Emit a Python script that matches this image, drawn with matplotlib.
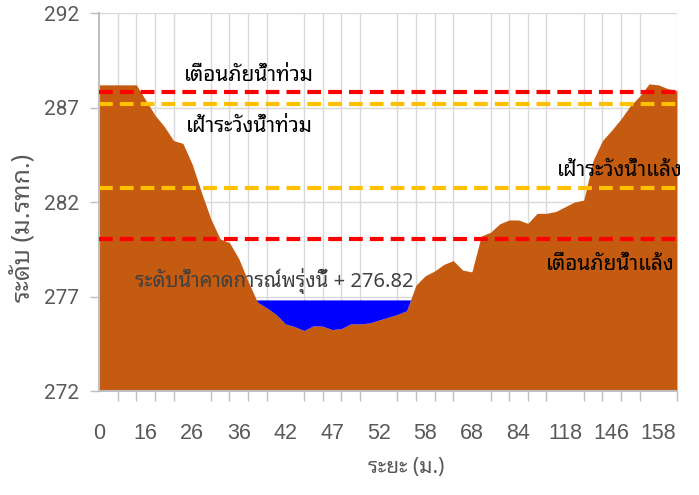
import matplotlib
matplotlib.use("Agg")
import matplotlib.pyplot as plt
import numpy as np

plt.rcParams['font.family'] = ['Noto Sans Thai Looped', 'DejaVu Sans']

# ระดับตลิ่ง/ท้องน้ำ ตามจุดสำรวจ (ม.รทก.)
ground = [288.2, 288.2, 288.2, 288.2, 288.2, 287.4, 286.6, 286.0, 285.25, 285.1,
          284.0, 282.5, 281.1, 280.05, 279.85, 279.0, 277.8, 276.7, 276.4, 276.05,
          275.55, 275.4, 275.2, 275.45, 275.43, 275.25, 275.3, 275.55, 275.55, 275.6,
          275.75, 275.9, 276.05, 276.25, 277.6, 278.1, 278.35, 278.7, 278.9, 278.4,
          278.3, 280.2, 280.4, 280.85, 281.05, 281.05, 280.87, 281.4, 281.4, 281.5,
          281.75, 282.0, 282.1, 284.2, 285.25, 285.8, 286.4, 287.1, 287.6, 288.25,
          288.2, 288.0, 287.9]
dist_labels = ['0', '16', '26', '36', '42', '47', '52', '58', '68', '84', '118', '146', '158']

water_level = 276.82
flood_warn = 287.82
flood_watch = 287.2
drought_watch = 282.76
drought_warn = 280.04

x = np.arange(len(ground))
g = np.array(ground)

fig = plt.figure(figsize=(6.99, 4.95), dpi=100)
ax = fig.add_axes([0.1416, 0.2101, 0.8269, 0.7636])

ax.fill_between(x, 272, g, color='#C55A11', lw=0, zorder=2)
ax.fill_between(x, g, water_level, where=g < water_level, interpolate=True,
                color='#0000FF', lw=0, zorder=2)

for lvl, col in [(flood_warn, '#FF0000'), (flood_watch, '#FFC000'),
                 (drought_watch, '#FFC000'), (drought_warn, '#FF0000')]:
    ax.axhline(lvl, color=col, lw=3, dashes=(3.3, 1.7), zorder=3)

ax.set_xlim(0, len(ground) - 1)
ax.set_ylim(272, 292)
ax.set_yticks([272, 277, 282, 287, 292])
ax.set_xticks(np.arange(0, len(ground), 5))
ax.set_xticklabels(dist_labels)
ax.set_xticks(np.arange(0, len(ground), 2), minor=True)
ax.tick_params(axis='x', which='major', length=0, pad=23, labelsize=15.5,
               labelcolor='#595959', labelfontfamily='Liberation Sans')
ax.tick_params(axis='x', which='minor', length=7, color='#BFBFBF', width=1)
ax.tick_params(axis='y', length=6.5, color='#BFBFBF', width=1, pad=8,
               labelsize=15, labelcolor='#595959', labelfontfamily='Roboto')
ax.grid(which='minor', axis='x', color='#D9D9D9', lw=1, zorder=0)
ax.grid(which='major', axis='y', color='#D9D9D9', lw=1, zorder=0)
ax.set_axisbelow(True)
for s in ['top', 'right']:
    ax.spines[s].set_visible(False)
for s in ['left', 'bottom']:
    ax.spines[s].set_color('#BFBFBF')
    ax.spines[s].set_linewidth(1.5)

ax.text(16.1, 288.72, 'เตือนภัยน้ำท่วม', ha='center', va='center', fontsize=15, color='black')
ax.text(16.1, 285.97, 'เฝ้าระวังน้ำท่วม', ha='center', va='center', fontsize=15, color='black')
ax.text(62.6, 283.69, 'เฝ้าระวังน้ำแล้ง', ha='right', va='center', fontsize=15, color='black')
ax.text(61.7, 278.67, 'เตือนภัยน้ำแล้ง', ha='right', va='center', fontsize=15, color='black')
ax.text(3.86, 277.82, 'ระดับน้ำคาดการณ์พรุ่งนี้ + ' + f'{water_level:.2f}', ha='left', va='center',
        fontsize=14.5, color='#404040')

fig.text(406 / 699, 1 - 468 / 495, 'ระยะ (ม.)', ha='center', va='center',
         fontsize=15, color='#595959', fontweight='bold')
fig.text(23 / 699, 1 - 228 / 495, 'ระดับ (ม.รทก.)', ha='center', va='center', rotation=90,
         fontsize=18, color='#595959', fontweight='bold')

fig.savefig('out.png', dpi=100)
